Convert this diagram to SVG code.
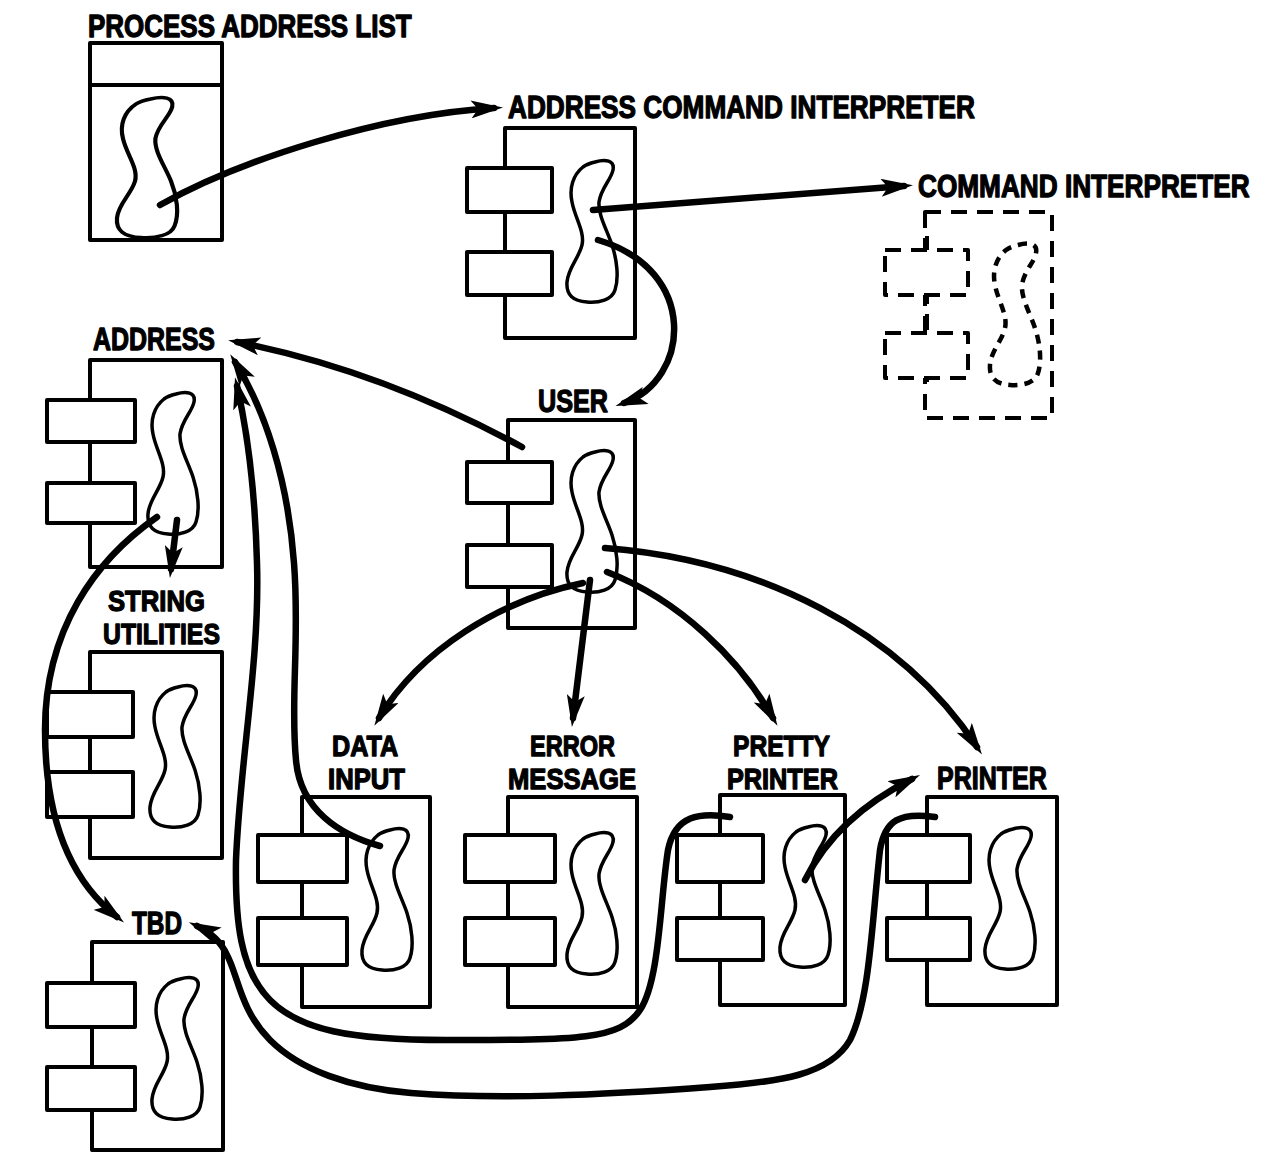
<svg xmlns="http://www.w3.org/2000/svg" xmlns:xlink="http://www.w3.org/1999/xlink" width="1263" height="1153" viewBox="0 0 1263 1153">
<style>
.box{fill:#fff;stroke:#000;stroke-width:4;stroke-linejoin:round}
.ln{stroke:#000;stroke-width:4}
.blob{fill:none;stroke:#000;stroke-width:3.5;stroke-linejoin:round}
.dash{stroke-dasharray:16 10}
.dblob{fill:none;stroke:#000;stroke-width:4.5;stroke-dasharray:9 7}
.lbl{font-family:"Liberation Sans",Arial,sans-serif;font-weight:bold;font-size:31px;fill:#000;stroke:#000;stroke-width:1.3;stroke-linejoin:round}
.l2{font-size:29px}
.con{fill:none;stroke:#000;stroke-width:6.5;stroke-linecap:round;marker-end:url(#ah)}
</style>
<defs>
<marker id="ah" viewBox="0 0 32 18" refX="23" refY="9" markerWidth="32" markerHeight="18" markerUnits="userSpaceOnUse" orient="auto">
<path d="M0,0 L32,9 L0,18 L7,9 Z" fill="#000"/>
</marker>
<path id="blob" d="M28,2 C38,-1 48,0 46,10 C44,20 34,28 32,42 C31,55 40,70 45,85 C50,100 52,118 48,130 C45,140 32,143 20,142 C6,141 -1,135 0,122 C1,108 12,98 15,85 C18,72 8,58 5,42 C2,28 6,15 16,7 C20,4 24,3 28,2 Z"/>
</defs>
<rect width="1263" height="1153" fill="#fff"/>

<g id="process-address-list">
<rect class="box" x="90" y="43" width="132" height="197"/>
<line class="ln" x1="90" y1="85" x2="222" y2="85"/>
<use href="#blob" class="blob" transform="translate(117,97) scale(1.2,0.99)"/>
<text class="lbl" transform="translate(88,37) scale(0.838,1)">PROCESS ADDRESS LIST</text>
</g>

<g id="address-command-interpreter">
<rect class="box" x="505" y="128" width="130" height="210"/>
<rect class="box" x="467" y="168" width="85" height="44"/>
<rect class="box" x="467" y="252" width="85" height="43"/>
<use href="#blob" class="blob" x="567" y="160"/>
<text class="lbl" transform="translate(508,118) scale(0.845,1)">ADDRESS COMMAND INTERPRETER</text>
</g>

<g id="command-interpreter">
<rect class="box dash" x="925" y="212" width="127" height="206"/>
<line class="ln dash" x1="927" y1="236" x2="927" y2="392" stroke-dasharray="14 8"/>
<rect class="box dash" x="885" y="250" width="83" height="45" stroke-dasharray="18 10"/>
<rect class="box dash" x="885" y="333" width="83" height="45" stroke-dasharray="18 10"/>
<use href="#blob" class="dblob" x="990" y="243"/>
<text class="lbl" transform="translate(918,197) scale(0.845,1)">COMMAND INTERPRETER</text>
</g>

<g id="address">
<rect class="box" x="90" y="360" width="132" height="207"/>
<rect class="box" x="47" y="400" width="88" height="42"/>
<rect class="box" x="47" y="483" width="88" height="40"/>
<use href="#blob" class="blob" x="148" y="392"/>
<text class="lbl" transform="translate(93,350) scale(0.805,1)">ADDRESS</text>
</g>

<g id="string-utilities">
<rect class="box" x="90" y="652" width="132" height="206"/>
<rect class="box" x="47" y="692" width="86" height="45"/>
<rect class="box" x="47" y="772" width="86" height="45"/>
<use href="#blob" class="blob" x="150" y="685"/>
<text class="lbl l2" transform="translate(108,611) scale(0.885,1)">STRING</text>
<text class="lbl l2" transform="translate(103,644) scale(0.854,1)">UTILITIES</text>
</g>

<g id="user">
<rect class="box" x="508" y="420" width="127" height="208"/>
<rect class="box" x="467" y="462" width="85" height="41"/>
<rect class="box" x="467" y="545" width="85" height="42"/>
<use href="#blob" class="blob" x="567" y="450"/>
<text class="lbl" transform="translate(538,412) scale(0.813,1)">USER</text>
</g>

<g id="data-input">
<rect class="box" x="302" y="797" width="128" height="210"/>
<rect class="box" x="258" y="835" width="89" height="47"/>
<rect class="box" x="258" y="918" width="89" height="47"/>
<use href="#blob" class="blob" x="362" y="828"/>
<text class="lbl l2" transform="translate(332,756) scale(0.869,1)">DATA</text>
<text class="lbl l2" transform="translate(328,789) scale(0.885,1)">INPUT</text>
</g>

<g id="error-message">
<rect class="box" x="508" y="797" width="129" height="210"/>
<rect class="box" x="465" y="835" width="90" height="47"/>
<rect class="box" x="465" y="918" width="90" height="47"/>
<use href="#blob" class="blob" x="567" y="832"/>
<text class="lbl l2" transform="translate(530,756) scale(0.812,1)">ERROR</text>
<text class="lbl l2" transform="translate(508,789) scale(0.883,1)">MESSAGE</text>
</g>

<g id="pretty-printer">
<rect class="box" x="720" y="795" width="125" height="210"/>
<rect class="box" x="677" y="835" width="86" height="47"/>
<rect class="box" x="677" y="918" width="86" height="42"/>
<use href="#blob" class="blob" x="780" y="825"/>
<text class="lbl l2" transform="translate(733,756) scale(0.848,1)">PRETTY</text>
<text class="lbl l2" transform="translate(727,789) scale(0.872,1)">PRINTER</text>
</g>

<g id="printer">
<rect class="box" x="927" y="797" width="130" height="208"/>
<rect class="box" x="887" y="835" width="83" height="47"/>
<rect class="box" x="887" y="918" width="83" height="42"/>
<use href="#blob" class="blob" x="985" y="827"/>
<text class="lbl" transform="translate(937,789) scale(0.808,1)">PRINTER</text>
</g>

<g id="tbd">
<rect class="box" x="92" y="942" width="131" height="208"/>
<rect class="box" x="47" y="983" width="88" height="44"/>
<rect class="box" x="47" y="1067" width="88" height="43"/>
<use href="#blob" class="blob" x="152" y="977"/>
<text class="lbl" transform="translate(132,934) scale(0.785,1)">TBD</text>
</g>

<g id="connectors">
<path class="con" d="M160,205 C240,160 380,115 494,108"/>
<path class="con" d="M593,210 L904,186"/>
<path class="con" d="M598,240 C700,270 690,380 624,403"/>
<path class="con" d="M522,447 Q380,370 237,342"/>
<path class="con" d="M380,846 C340,835 300,810 296,760 C290,700 300,640 294,563 C288,480 265,410 235,362"/>
<path class="con" d="M730,817 C700,812 675,815 668,850 C660,900 660,980 640,1010 C620,1040 580,1040 446,1040 C350,1040 300,1030 270,1000 C240,970 235,920 236,860 C240,760 260,660 257,563 C255,490 247,430 237,386"/>
<path class="con" d="M157,517 C95,560 45,630 45,730 C45,820 70,880 117,917"/>
<path class="con" d="M177,520 L171,569"/>
<path class="con" d="M583,583 C500,600 420,650 379,718"/>
<path class="con" d="M590,580 L573,718"/>
<path class="con" d="M607,572 C680,600 740,660 773,718"/>
<path class="con" d="M605,548 C760,560 900,630 977,747"/>
<path class="con" d="M805,880 C820,850 850,810 912,779"/>
<path class="con" d="M935,817 C900,812 885,820 880,850 C872,920 870,1000 850,1040 C830,1075 780,1082 710,1087 C600,1095 500,1100 411,1093 C350,1088 300,1070 270,1040 C240,1010 238,975 227,955 C220,940 210,932 197,926"/>
</g>
</svg>
